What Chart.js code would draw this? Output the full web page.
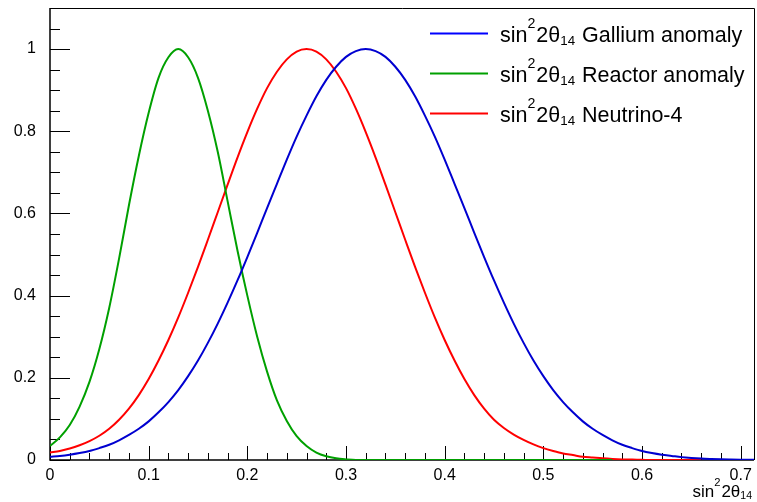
<!DOCTYPE html>
<html>
<head>
<meta charset="utf-8">
<script src="https://cdn.jsdelivr.net/npm/chart.js@4"></script>
<style>
  body { margin: 0; background: #fff; }
  #wrap { width: 757px; height: 502px; }
</style>
</head>
<body>
<div id="wrap"><canvas id="chart" width="757" height="502"></canvas></div>
<script>
// x positions (sin^2 2θ14)
const xs = [0.00, 0.01, 0.02, 0.03, 0.04, 0.05, 0.06, 0.07, 0.08, 0.09,
  0.10, 0.11, 0.12, 0.13, 0.14, 0.15, 0.16, 0.17, 0.18, 0.19,
  0.20, 0.21, 0.22, 0.23, 0.24, 0.25, 0.26, 0.27, 0.28, 0.29,
  0.30, 0.31, 0.32, 0.33, 0.34, 0.35, 0.36, 0.37, 0.38, 0.39,
  0.40, 0.41, 0.42, 0.43, 0.44, 0.45, 0.46, 0.47, 0.48, 0.49,
  0.50, 0.51, 0.52, 0.53, 0.54, 0.55, 0.56, 0.57, 0.58, 0.59,
  0.60, 0.61, 0.62, 0.63, 0.64, 0.65, 0.66, 0.67, 0.68, 0.69,
  0.70, 0.71, 0.72];

// Gallium anomaly (青)
const gallium = [0.008, 0.010, 0.013, 0.017, 0.022, 0.029, 0.037, 0.048, 0.061, 0.076,
  0.094, 0.116, 0.141, 0.170, 0.204, 0.242, 0.285, 0.332, 0.383, 0.437,
  0.494, 0.553, 0.613, 0.672, 0.731, 0.787, 0.838, 0.885, 0.925, 0.957,
  0.981, 0.995, 1.000, 0.995, 0.981, 0.957, 0.925, 0.885, 0.838, 0.787,
  0.731, 0.672, 0.613, 0.553, 0.494, 0.437, 0.383, 0.332, 0.285, 0.242,
  0.204, 0.170, 0.141, 0.116, 0.094, 0.076, 0.061, 0.048, 0.037, 0.029,
  0.022, 0.017, 0.013, 0.010, 0.007, 0.005, 0.0035, 0.0025, 0.0017, 0.0012,
  0.0008, 0.0005, 0.0003];

// Reactor anomaly (緑)
const reactor = [0.034, 0.055, 0.085, 0.130, 0.190, 0.270, 0.370, 0.490, 0.620, 0.740,
  0.845, 0.930, 0.980, 1.000, 0.980, 0.930, 0.850, 0.750, 0.630, 0.510,
  0.400, 0.300, 0.215, 0.145, 0.095, 0.058, 0.034, 0.018, 0.009, 0.004,
  0.0015, 0, 0, 0, 0, 0, 0, 0, 0, 0,
  0, 0, 0, 0, 0, 0, 0, 0, 0, 0,
  0, 0, 0, 0, 0, 0, 0, 0];

// Neutrino-4 (赤)
const neutrino4 = [0.018, 0.022, 0.028, 0.036, 0.046, 0.059, 0.076, 0.098, 0.125, 0.158,
  0.197, 0.242, 0.292, 0.347, 0.407, 0.470, 0.536, 0.603, 0.670, 0.736,
  0.798, 0.855, 0.905, 0.945, 0.975, 0.994, 1.000, 0.994, 0.975, 0.945,
  0.905, 0.855, 0.798, 0.736, 0.670, 0.603, 0.536, 0.470, 0.407, 0.347,
  0.292, 0.242, 0.197, 0.158, 0.125, 0.098, 0.078, 0.062, 0.049, 0.038,
  0.029, 0.022, 0.016, 0.012, 0.008, 0.006, 0.004, 0.0025, 0.0015, 0.001,
  0.0005, 0, 0, 0, 0, 0, 0];

const seriesNames = ["Gallium anomaly", "Reactor anomaly", "Neutrino-4"];
const seriesColors = ["#0000d0", "#00a000", "#ff0000"];
const legendColors = ["#0000ff", "#00a000", "#ff0000"];

const xTicks = [0, 0.1, 0.2, 0.3, 0.4, 0.5, 0.6, 0.7];
const yTicks = [0, 0.2, 0.4, 0.6, 0.8, 1];

const FONT = '"Liberation Sans", Arial, Helvetica, sans-serif';

function toPoints(values) {
  return values.map((v, i) => ({ x: xs[i], y: v }));
}

// sin²2θ₁₄ を上付き・下付きで描く
function drawSinLabel(ctx, x, base, size, rest, align) {
  const parts = [
    { t: "sin", s: size, dy: 0, gap: 0 },
    { t: "2", s: size * 0.66, dy: -size * 0.64, gap: 1 },
    { t: "2θ", s: size, dy: 0, gap: 0 },
    { t: "14", s: size * 0.62, dy: size * 0.14, gap: 1 }
  ];
  if (rest) parts.push({ t: " " + rest, s: size, dy: 0, gap: 0 });
  let total = 0;
  parts.forEach(p => {
    ctx.font = `${p.s}px ${FONT}`;
    p.w = ctx.measureText(p.t).width + p.gap;
    total += p.w;
  });
  let cx = align === "right" ? x - total : x;
  ctx.textAlign = "left";
  ctx.textBaseline = "alphabetic";
  parts.forEach(p => {
    ctx.font = `${p.s}px ${FONT}`;
    ctx.fillText(p.t, cx, base + p.dy);
    cx += p.w;
  });
}

// ROOT 風の軸（内向きの目盛り）
const rootAxes = {
  id: "rootAxes",
  beforeDatasetsDraw(chart) {
    const { ctx, chartArea: a, scales: { x, y } } = chart;
    ctx.save();
    ctx.strokeStyle = "#000";
    ctx.lineWidth = 1;
    ctx.beginPath();
    ctx.moveTo(a.left, a.top + 0.5);
    ctx.lineTo(a.right + 0.5, a.top + 0.5);
    ctx.lineTo(a.right + 0.5, a.bottom);
    ctx.stroke();

    ctx.lineWidth = 1.5;
    ctx.beginPath();
    ctx.moveTo(a.left, a.top);
    ctx.lineTo(a.left, a.bottom);
    ctx.lineTo(a.right, a.bottom);
    ctx.stroke();

    ctx.lineWidth = 1;
    ctx.beginPath();
    for (let i = 0; i * 0.02 <= x.max + 1e-9; i++) {
      const px = Math.round(x.getPixelForValue(i * 0.02)) + 0.5;
      const len = i % 5 === 0 ? 14 : 7;
      ctx.moveTo(px, a.bottom);
      ctx.lineTo(px, a.bottom - len);
    }
    for (let j = 0; j * 0.05 <= y.max + 1e-9; j++) {
      const py = Math.round(y.getPixelForValue(j * 0.05)) + 0.5;
      const len = j % 4 === 0 ? 20 : 10;
      ctx.moveTo(a.left, py);
      ctx.lineTo(a.left + len, py);
    }
    ctx.stroke();
    ctx.restore();
  },
  afterDraw(chart) {
    const { ctx, chartArea: a } = chart;
    ctx.save();
    // 凡例
    const rowY = [33.5, 73.5, 113.5];
    seriesNames.forEach((name, i) => {
      ctx.strokeStyle = legendColors[i];
      ctx.lineWidth = 2;
      ctx.beginPath();
      ctx.moveTo(430, rowY[i]);
      ctx.lineTo(488, rowY[i]);
      ctx.stroke();
      ctx.fillStyle = "#000";
      drawSinLabel(ctx, 500, rowY[i] + 8, 21.5, name, "left");
    });
    // x 軸タイトル
    ctx.fillStyle = "#000";
    drawSinLabel(ctx, a.right - 1, 496.5, 17, "", "right");
    ctx.restore();
  }
};

new Chart(document.getElementById("chart"), {
  type: "line",
  data: {
    datasets: [
      { label: "sin²2θ₁₄ " + seriesNames[0], data: toPoints(gallium), borderColor: seriesColors[0] },
      { label: "sin²2θ₁₄ " + seriesNames[1], data: toPoints(reactor), borderColor: seriesColors[1] },
      { label: "sin²2θ₁₄ " + seriesNames[2], data: toPoints(neutrino4), borderColor: seriesColors[2] }
    ]
  },
  options: {
    responsive: false,
    animation: false,
    layout: { padding: { top: 8, right: 3, left: 0, bottom: 0 } },
    elements: {
      point: { radius: 0 },
      line: { borderWidth: 2, fill: false, cubicInterpolationMode: "monotone" }
    },
    plugins: {
      legend: { display: false },
      tooltip: { enabled: false }
    },
    scales: {
      x: {
        type: "linear",
        min: 0,
        max: 0.7135,
        grid: { display: false },
        border: { display: false },
        afterBuildTicks: s => { s.ticks = xTicks.map(v => ({ value: v })); },
        afterFit: s => { s.height = 42; s.paddingLeft = 0; s.paddingRight = 0; },
        ticks: {
          padding: -2,
          color: "#000",
          maxRotation: 0,
          font: { family: FONT, size: 16 },
          callback: v => String(v)
        }
      },
      y: {
        min: 0,
        max: 1.1,
        grid: { display: false },
        border: { display: false },
        afterBuildTicks: s => { s.ticks = yTicks.map(v => ({ value: v })); },
        afterFit: s => { s.width = 50; s.paddingTop = 0; s.paddingBottom = 0; },
        ticks: {
          padding: 6,
          color: "#000",
          font: { family: FONT, size: 16 },
          callback: v => String(v)
        }
      }
    }
  },
  plugins: [rootAxes]
});
</script>
</body>
</html>
